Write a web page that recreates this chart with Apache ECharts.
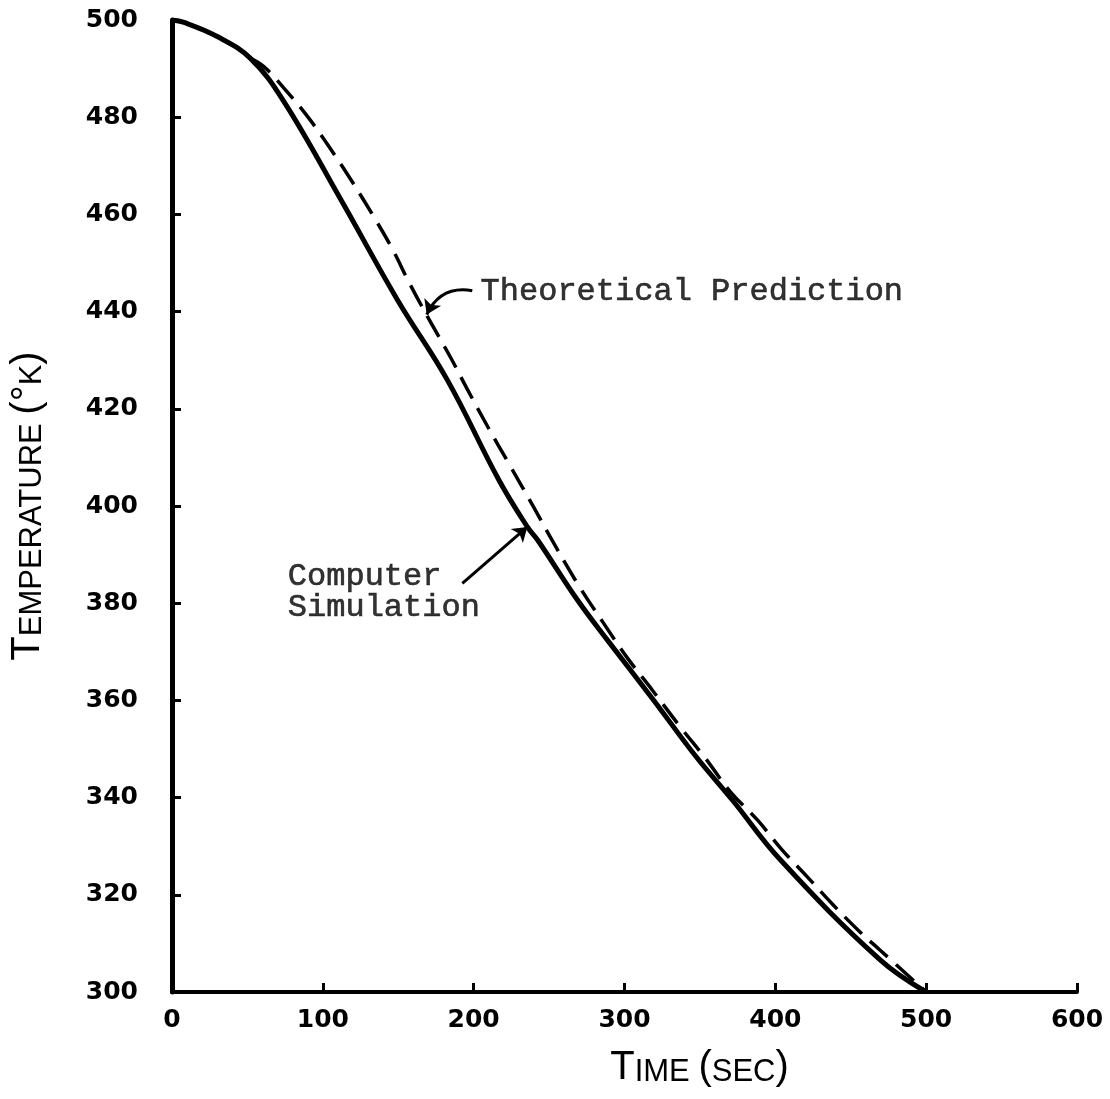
<!DOCTYPE html>
<html>
<head>
<meta charset="utf-8">
<script src="https://cdn.jsdelivr.net/npm/echarts@6/dist/echarts.min.js"></script>
<style>
html,body{margin:0;padding:0;background:#fff;}
#chart{width:1110px;height:1099px;}
</style>
</head>
<body>
<div id="chart"></div>
<script>
// Time ticks and temperature ticks
const xTicks = [0, 100, 200, 300, 400, 500, 600];
const yTicks = [300, 320, 340, 360, 380, 400, 420, 440, 460, 480, 500];

// Computer simulation (solid)
const simTime = [0, 8, 30, 52, 74, 112, 149.5, 182.6, 216.8, 235.6, 242.4, 268.7, 288.7, 319.2, 347, 371.5, 403.3, 469.5, 500];
const simTemp = [500, 499.5, 496.6, 492.1, 483.3, 463.0, 442.4, 425.9, 405.3, 395.7, 393.0, 380.7, 372.4, 360.1, 348.6, 339.5, 327.2, 306.6, 300];

// Theoretical prediction (dashed)
const theoTime = [52, 60.9, 74.2, 90.7, 106.6, 119.9, 133.8, 146.4, 157, 169.5, 184.8, 196, 209.9, 223.2, 239.7, 253, 269.5, 286.1, 302, 318.5, 337.1, 353.6, 370.2, 388.1, 404.6, 421.2, 438.4, 456.3, 469.5, 500];
const theoTemp = [492.1, 490.4, 486.0, 479.8, 472.8, 466.5, 459.5, 452.7, 446.1, 438.9, 430.5, 423.9, 416.0, 408.8, 399.8, 392.4, 383.7, 375.9, 368.7, 362.1, 354.5, 348.1, 341.2, 335.4, 329.2, 323.7, 317.9, 312.3, 308.6, 300];

// Annotations (data coordinates)
const theoLabel = {text: 'Theoretical Prediction', at: [204.6, 444.2]};
const simLabel = {text: 'Computer\nSimulation', at: [76.8, 382.3]};
const theoArrow = [[199.1, 444.3], [168.9, 439.4]];
const simArrow = [[192.5, 384.1], [235.6, 395.7]];

const pairs = (xs, ys) => xs.map((x, i) => [x, ys[i]]);

const chart = echarts.init(document.getElementById('chart'), null, {renderer: 'canvas'});

const tickFont = {fontFamily: 'DejaVu Sans', fontWeight: 'bold', fontSize: 25, color: '#000'};
const bigName = {fontFamily: 'Liberation Sans', fontSize: 40, lineHeight: 40, verticalAlign: 'bottom', color: '#000'};
const smallName = {fontFamily: 'Liberation Sans', fontSize: 31, lineHeight: 40, verticalAlign: 'bottom', color: '#000'};
const annFont = {fontFamily: 'Liberation Mono', fontSize: 32, color: '#000', textBorderColor: '#000', textBorderWidth: 0.6};

chart.setOption({
  animation: false,
  backgroundColor: '#fff',
  grid: {left: 171, right: 33, top: 20, bottom: 107, containLabel: false},
  xAxis: {
    type: 'value', min: xTicks[0], max: xTicks[xTicks.length - 1], interval: 100,
    axisLine: {lineStyle: {color: '#000', width: 4}},
    axisTick: {inside: true, length: 9, lineStyle: {color: '#000', width: 3}},
    axisLabel: Object.assign({margin: 16}, tickFont),
    splitLine: {show: false},
    name: '{b|T}{s|IME }{b|(}{s|SEC}{b|)}',
    nameLocation: 'middle', nameGap: 56,
    nameTextStyle: {padding: [0, 0, 0, 150], rich: {b: bigName, s: smallName}}
  },
  yAxis: {
    type: 'value', min: yTicks[0], max: yTicks[yTicks.length - 1], interval: 20,
    axisLine: {lineStyle: {color: '#000', width: 5}},
    axisTick: {inside: true, length: 9, lineStyle: {color: '#000', width: 3}},
    axisLabel: Object.assign({margin: 34}, tickFont),
    splitLine: {show: false},
    name: '{b|T}{s|EMPERATURE }{b|(°}{s|K}{b|)}',
    nameLocation: 'middle', nameGap: 124,
    nameTextStyle: {rich: {b: bigName, s: smallName}}
  },
  series: [
    {
      name: 'Theoretical Prediction', type: 'line', data: pairs(theoTime, theoTemp),
      showSymbol: false, symbol: 'none', smooth: 0.4,
      lineStyle: {color: '#000', width: 3.5, type: [24, 11]}, z: 2
    },
    {
      name: 'Computer Simulation', type: 'line', data: pairs(simTime, simTemp),
      showSymbol: false, symbol: 'none', smooth: 0.4,
      lineStyle: {color: '#000', width: 5}, z: 3
    },
    {
      name: 'theoArrow', type: 'lines', coordinateSystem: 'cartesian2d', silent: true, z: 4,
      symbol: ['none', 'arrow'], symbolSize: 14,
      lineStyle: {color: '#000', width: 3, opacity: 1, curveness: -0.38},
      data: [{coords: theoArrow}]
    },
    {
      name: 'simArrow', type: 'lines', coordinateSystem: 'cartesian2d', silent: true, z: 4,
      symbol: ['none', 'arrow'], symbolSize: 14,
      lineStyle: {color: '#000', width: 3, opacity: 1, curveness: 0},
      data: [{coords: simArrow}]
    },
    {
      name: 'annotations', type: 'scatter', symbolSize: 0, z: 4, silent: true,
      data: [
        {value: theoLabel.at, label: Object.assign({show: true, position: 'right', distance: 0, formatter: theoLabel.text}, annFont)},
        {value: simLabel.at, label: Object.assign({show: true, position: 'right', distance: 0, lineHeight: 31, formatter: simLabel.text}, annFont)}
      ]
    }
  ]
});
</script>
</body>
</html>
